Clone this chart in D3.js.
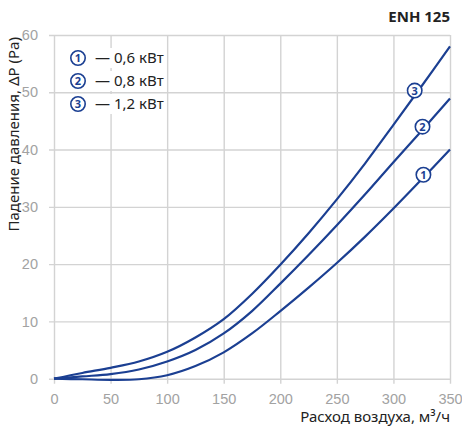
<!DOCTYPE html>
<html lang="ru">
  <head>
    <meta charset="utf-8" />
    <title>ENH 125</title>
    <script src="https://cdn.jsdelivr.net/npm/d3@7"></script>
    <style>
      body {
        margin: 0;
        background: #fff;
        font-family: "Noto Sans", "Open Sans", sans-serif;
      }
      .grid line {
        stroke: #d3d3d3;
        stroke-width: 1.4;
      }
      .tick text {
        fill: #a2a2a2;
        font-size: 14.5px;
      }
      .curve {
        fill: none;
        stroke: #1b3f92;
        stroke-width: 2.2;
      }
    </style>
  </head>
  <body>
    <svg id="chart"></svg>
    <script>
      // airflow, m3/h
      const flow = [0, 25, 50, 75, 100, 125, 150, 175, 200, 225, 250, 275, 300, 325, 350];
      // pressure drop, Pa
      const dp06 = [0, -0.1, -0.2, -0.1, 0.6, 2.2, 4.6, 7.9, 11.8, 15.9, 20.2, 24.8, 29.7, 34.8, 40.0];
      const dp08 = [0, 0.4, 0.8, 1.6, 3.0, 5.0, 7.9, 11.8, 16.6, 21.6, 26.8, 32.2, 37.8, 43.3, 48.9];
      const dp12 = [0, 1.0, 1.9, 3.0, 4.7, 7.2, 10.4, 14.8, 19.9, 25.4, 31.3, 37.6, 44.3, 51.1, 58.0];

      const seriesNames = ["1", "2", "3"];
      const seriesLabels = ["— 0,6 кВт", "— 0,8 кВт", "— 1,2 кВт"];
      // where the circled numbers sit on the curves (m3/h, Pa)
      const markerFlow = [326.5, 325.7, 318.8];
      const markerDp = [35.6, 44.0, 50.3];

      const xTicks = [0, 50, 100, 150, 200, 250, 300, 350];
      const yTicks = [0, 10, 20, 30, 40, 50, 60];

      const W = 462, H = 428;
      const margin = { top: 35, left: 54 };
      const plotW = 396, plotH = 343.7;
      const blue = "#1b3f92";

      const svg = d3.select("#chart").attr("width", W).attr("height", H);
      const g = svg.append("g").attr("transform", `translate(${margin.left},${margin.top})`);

      const x = d3.scaleLinear().domain([0, 350]).range([0, plotW]);
      const y = d3.scaleLinear().domain([0, 60]).range([plotH, 0]);

      // grid
      const xAxis = d3.axisBottom(x).tickValues(xTicks).tickPadding(9);
      const gx = g.append("g").attr("class", "grid").attr("transform", `translate(0,${plotH})`).call(xAxis);
      gx.select(".domain").remove();
      gx.selectAll(".tick line").attr("y1", -plotH).attr("y2", 5);

      const yAxis = d3.axisLeft(y).tickValues(yTicks).tickPadding(10);
      const gy = g.append("g").attr("class", "grid").call(yAxis);
      gy.select(".domain").remove();
      gy.selectAll(".tick line").attr("x1", -5).attr("x2", plotW);

      // curves
      const line = d3
        .line()
        .x(d => x(d[0]))
        .y(d => y(d[1]))
        .curve(d3.curveCatmullRom.alpha(0.5));

      const series = [dp06, dp08, dp12];
      series.forEach(vals => {
        g.append("path")
          .attr("class", "curve")
          .attr("d", line(flow.map((f, i) => [f, vals[i]])));
      });

      function badge(parent, cx, cy, txt) {
        const b = parent.append("g").attr("transform", `translate(${cx},${cy})`);
        b.append("circle").attr("r", 7.2).attr("fill", "#fff").attr("stroke", blue).attr("stroke-width", 1.6);
        b.append("text")
          .attr("text-anchor", "middle")
          .attr("dy", "0.36em")
          .attr("fill", blue)
          .attr("font-size", 11)
          .attr("font-weight", "bold")
          .text(txt);
      }

      seriesNames.forEach((n, i) => badge(g, x(markerFlow[i]), y(markerDp[i]), n));

      // legend
      const legend = svg.append("g").attr("transform", "translate(78,58)");
      seriesNames.forEach((n, i) => {
        const row = legend.append("g").attr("transform", `translate(0,${i * 23})`);
        row.append("rect").attr("x", -10).attr("y", -10).attr("width", 90).attr("height", 20).attr("fill", "#fff");
        badge(row, 0, 0, n);
        row.append("text")
          .attr("x", 17)
          .attr("dy", "0.35em")
          .attr("font-size", 15)
          .attr("fill", "#222")
          .text(seriesLabels[i]);
      });

      // titles
      svg.append("text")
        .attr("x", 450)
        .attr("y", 22)
        .attr("text-anchor", "end")
        .attr("font-size", 15)
        .attr("font-weight", "bold")
        .attr("fill", "#222")
        .text("ENH 125");

      svg.append("text")
        .attr("x", 450)
        .attr("y", 422)
        .attr("text-anchor", "end")
        .attr("font-size", 15)
        .attr("fill", "#222")
        .text("Расход воздуха, м³/ч");

      svg.append("text")
        .attr("transform", "translate(19,37) rotate(-90)")
        .attr("text-anchor", "end")
        .attr("font-size", 15)
        .attr("fill", "#222")
        .text("Падение давления, ΔP (Pa)");
    </script>
  </body>
</html>
